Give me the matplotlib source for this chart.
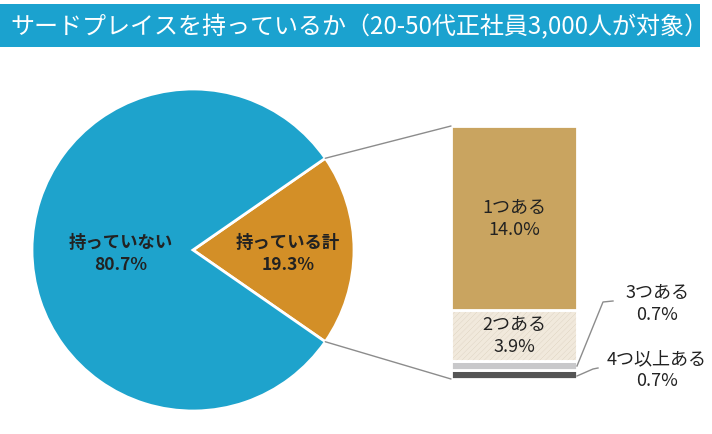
import numpy as np
import matplotlib
matplotlib.use('Agg')
import matplotlib.pyplot as plt
from matplotlib.patches import Rectangle, ConnectionPatch
from matplotlib.lines import Line2D

plt.rcParams['font.family'] = ['Noto Sans CJK JP', 'DejaVu Sans']
plt.rcParams['hatch.linewidth'] = 0.6

title = 'サードプレイスを持っているか（20-50代正社員3,000人が対象）'

# pie: share of people who have a third place
pie_labels = ['持っている計', '持っていない']
pie_values = [19.3, 80.7]
pie_colors = ['#d38f27', '#1ea3cc']

# breakdown of "持っている計" (bottom -> top)
bar_labels = ['4つ以上ある', '3つある', '2つある', '1つある']
bar_values = [0.7, 0.7, 3.9, 14.0]
bar_colors = ['#555555', '#c8c8ca', '#f1e9dc', '#c9a460']

W, H = 712, 435
fig = plt.figure(figsize=(W / 100, H / 100), dpi=100)

def fx(x):
    return x / W

def fy(y):
    return 1 - y / H

# title banner
fig.patches.append(Rectangle((0, fy(48)), fx(700), (48 - 5) / H,
                             transform=fig.transFigure, facecolor='#1ba2cf',
                             edgecolor='none'))
fig.text(fx(10), fy(27), title, color='white', fontsize=17.3,
         va='center', ha='left')

# pie
cx, cy, r = 193, 251, 161
ax_pie = fig.add_axes([fx(cx - r), fy(cy + r), 2 * r / W, 2 * r / H])
start = -pie_values[0] / 100 * 360 / 2
wedges, _ = ax_pie.pie(pie_values, colors=pie_colors, startangle=start,
                       counterclock=True, radius=1,
                       wedgeprops=dict(edgecolor='white', linewidth=2))
ax_pie.set_xlim(-1, 1)
ax_pie.set_ylim(-1, 1)
ax_pie.set_aspect('equal')
ax_pie.axis('off')

ax_pie.text(0.59, -0.02, f'{pie_labels[0]}\n{pie_values[0]}%', ha='center',
            va='center', fontsize=12.5, fontweight='bold', color='#222222',
            linespacing=1.25)
ax_pie.text(-0.45, -0.02, f'{pie_labels[1]}\n{pie_values[1]}%', ha='center',
            va='center', fontsize=12.5, fontweight='bold', color='#222222',
            linespacing=1.25)

# stacked bar
bx0, bx1, by0, by1 = 451, 577, 127, 380
ax_bar = fig.add_axes([fx(bx0), fy(by1), (bx1 - bx0) / W, (by1 - by0) / H])
total = sum(bar_values)
bottom = 0
for lab, v, c in zip(bar_labels, bar_values, bar_colors):
    hatch = '//////' if lab == '2つある' else None
    ax_bar.bar(0, v, bottom=bottom, width=1, color=c, hatch=hatch,
               edgecolor='white', linewidth=2)
    if hatch:
        ax_bar.bar(0, v, bottom=bottom, width=1, color='none', hatch=hatch,
                   edgecolor='#e2d6c2', linewidth=0)
        ax_bar.bar(0, v, bottom=bottom, width=1, color='none',
                   edgecolor='white', linewidth=2)
    if v > 2:
        ax_bar.text(0, bottom + v / 2, f'{lab}\n{v}%', ha='center',
                    va='center', fontsize=13, color='#222222',
                    linespacing=1.25)
    bottom += v
ax_bar.set_xlim(-0.5, 0.5)
ax_bar.set_ylim(0, total)
ax_bar.axis('off')

# connectors pie -> bar
theta = np.deg2rad(pie_values[0] / 100 * 360 / 2)
for sgn, yb in [(1, total), (-1, 0)]:
    con = ConnectionPatch(xyA=(np.cos(theta), sgn * np.sin(theta)),
                          coordsA=ax_pie.transData,
                          xyB=(-0.5, yb), coordsB=ax_bar.transData,
                          color='#8c8c8c', linewidth=1)
    fig.add_artist(con)

# small segment labels on the right
pts3 = [(577, 367), (603, 303), (613, 302)]
pts4 = [(577, 377), (593, 370), (598, 369)]
for pts in (pts3, pts4):
    fig.add_artist(Line2D([fx(p[0]) for p in pts], [fy(p[1]) for p in pts],
                          transform=fig.transFigure, color='#8c8c8c',
                          linewidth=1))
fig.text(fx(657), fy(304), f'{bar_labels[1]}\n{bar_values[1]}%', ha='center',
         va='center', fontsize=13, color='#222222', linespacing=1.25)
fig.text(fx(657), fy(370), f'{bar_labels[0]}\n{bar_values[0]}%', ha='center',
         va='center', fontsize=13, color='#222222', linespacing=1.25)

fig.savefig('out.png', dpi=100)
